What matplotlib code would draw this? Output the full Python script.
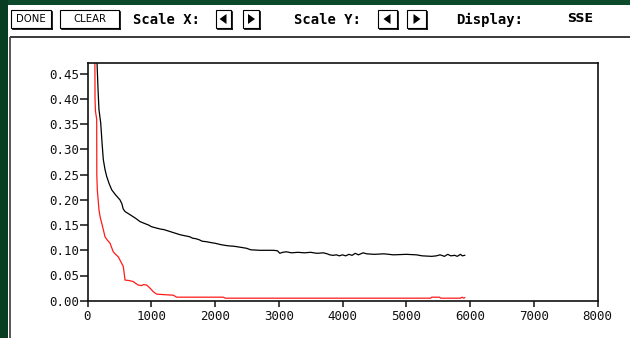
import matplotlib
matplotlib.use("Agg")
import matplotlib.pyplot as plt
from matplotlib.patches import Rectangle, Polygon

# ---- error curves (iteration, SSE) ----
black_iter = [140, 150, 165, 180, 207, 230, 248, 275, 300, 340, 380, 440, 510, 540, 560,
              588, 650, 700, 760, 823, 900, 960, 1000, 1085, 1150, 1200, 1300, 1400, 1450,
              1520, 1600, 1650, 1700, 1750, 1800, 1868, 1950, 2000, 2100, 2200, 2300,
              2400, 2495, 2560, 2700, 2920, 2980, 3017, 3060, 3120, 3200, 3300, 3400,
              3500, 3600, 3700, 3760, 3800, 3850, 3906, 3950, 4000, 4050, 4100, 4150,
              4200, 4250, 4323, 4380, 4500, 4650, 4800, 5000, 5159, 5250, 5400, 5473,
              5530, 5600, 5650, 5700, 5760, 5800, 5850, 5880, 5917]
black_sse = [0.60, 0.470, 0.420, 0.379, 0.353, 0.310, 0.280, 0.260, 0.247, 0.232, 0.220,
             0.210, 0.200, 0.192, 0.182, 0.177, 0.172, 0.168, 0.163, 0.157, 0.153, 0.150,
             0.147, 0.144, 0.142, 0.141, 0.137, 0.133, 0.131, 0.129, 0.127, 0.124, 0.123,
             0.121, 0.118, 0.117, 0.115, 0.114, 0.111, 0.109, 0.108, 0.106, 0.104, 0.101,
             0.100, 0.100, 0.099, 0.094, 0.096, 0.097, 0.095, 0.096, 0.095, 0.096, 0.094,
             0.095, 0.093, 0.091, 0.090, 0.091, 0.089, 0.091, 0.089, 0.092, 0.090, 0.094,
             0.091, 0.095, 0.093, 0.092, 0.093, 0.091, 0.092, 0.091, 0.089, 0.088, 0.089,
             0.091, 0.088, 0.092, 0.089, 0.090, 0.088, 0.092, 0.089, 0.090]

red_iter = [112, 118, 125, 144, 146, 154, 180, 200, 223, 250, 274, 300, 353, 380, 404,
            440, 483, 520, 561, 580, 588, 650, 718, 760, 796, 850, 880, 928, 980, 1031,
            1085, 1200, 1345, 1398, 1600, 1800, 2129, 2160, 3000, 4000, 5000, 5380, 5400,
            5520, 5540, 5850, 5880, 5900, 5917]
red_sse = [0.62, 0.400, 0.376, 0.360, 0.250, 0.220, 0.180, 0.165, 0.154, 0.140, 0.127,
           0.122, 0.114, 0.105, 0.097, 0.092, 0.087, 0.078, 0.068, 0.050, 0.041, 0.040,
           0.038, 0.034, 0.031, 0.030, 0.032, 0.031, 0.025, 0.018, 0.013, 0.012, 0.011,
           0.007, 0.007, 0.007, 0.007, 0.005, 0.005, 0.005, 0.005, 0.005, 0.007, 0.007,
           0.005, 0.005, 0.007, 0.005, 0.006]

x_ticks = [0, 1000, 2000, 3000, 4000, 5000, 6000, 7000, 8000]
y_ticks = [0.00, 0.05, 0.10, 0.15, 0.20, 0.25, 0.30, 0.35, 0.40, 0.45]

W, H = 630, 338
fig = plt.figure(figsize=(W / 100, H / 100), dpi=100, facecolor="white")

# ---- window chrome drawn in pixel coordinates ----
ui = fig.add_axes([0, 0, 1, 1])
ui.set_xlim(0, W)
ui.set_ylim(H, 0)
ui.axis("off")

green = "#0c4a2b"
ui.add_patch(Rectangle((0, 0), W, 5, color=green, lw=0))
ui.add_patch(Rectangle((0, 0), 8, H, color="#083d22", lw=0))

# panel frame
ui.plot([10, W], [37, 37], color="#2a2a2a", lw=1.3, solid_capstyle="butt")
ui.plot([10, 10], [37, H], color="#4a4a4a", lw=1.3, solid_capstyle="butt")


def button(x0, x1, y0, y1):
    ui.add_patch(Rectangle((x0, y0), x1 - x0, y1 - y0, fill=False, ec="black", lw=0.8))
    ui.plot([x1 + 0.8, x1 + 0.8], [y0 + 1.5, y1 + 0.8], color="black", lw=1.2)
    ui.plot([x0 + 1.5, x1 + 0.8], [y1 + 0.8, y1 + 0.8], color="black", lw=1.2)


button(11, 51, 10, 28)
ui.text(31, 19.5, "DONE", ha="center", va="center", fontsize=7.3,
        family="DejaVu Sans", color="black")
button(60, 119, 10, 28)
ui.text(90, 19.5, "CLEAR", ha="center", va="center", fontsize=7.3,
        family="DejaVu Sans", color="black")


def arrow_button(x0, x1, left):
    button(x0, x1, 10, 28)
    cx = (x0 + x1) / 2
    if left:
        tri = [(cx - 4, 19), (cx + 3, 14), (cx + 3, 24)]
    else:
        tri = [(cx + 4, 19), (cx - 3, 14), (cx - 3, 24)]
    ui.add_patch(Polygon(tri, closed=True, color="black", lw=0))


mono_bold = dict(family="DejaVu Sans Mono", weight="bold", fontsize=10, va="center")
ui.text(133, 19.5, "Scale X:", ha="left", **mono_bold)
arrow_button(216, 231, True)
arrow_button(243, 259, False)
ui.text(294, 19.5, "Scale Y:", ha="left", **mono_bold)
arrow_button(378, 397, True)
arrow_button(407, 426, False)
ui.text(456, 19.5, "Display:", ha="left", **mono_bold)
ui.text(580, 18.5, "SSE", ha="center", va="center", fontsize=9,
        family="DejaVu Sans", weight="bold")

# ---- plot area ----
left, right = 87.5, 597.5
top, bottom = 62.7, 300.7
ax = fig.add_axes([left / W, (H - bottom) / H, (right - left) / W, (bottom - top) / H])
ax.set_facecolor("white")

ax.plot(black_iter, black_sse, color="black", lw=0.9)
ax.plot(red_iter, red_sse, color="#ff1a1a", lw=0.9)

ax.set_xlim(0, 8000)
ax.set_ylim(0, (bottom - top) / 504.0)
ax.set_xticks(x_ticks)
ax.set_xticklabels([str(v) for v in x_ticks])
ax.set_yticks(y_ticks)
ax.set_yticklabels([f"{v:.2f}" for v in y_ticks])

for s in ax.spines.values():
    s.set_linewidth(1.2)
    s.set_color("#111111")
ax.tick_params(axis="y", direction="out", length=5.5, width=1.1, pad=0.5,
               labelsize=9, colors="#111111")
ax.tick_params(axis="x", direction="out", length=4.5, width=1.1, pad=2,
               labelsize=9, colors="#111111")
for lab in ax.get_xticklabels() + ax.get_yticklabels():
    lab.set_family("DejaVu Sans Mono")

fig.savefig("out.png", dpi=100, facecolor="white")
